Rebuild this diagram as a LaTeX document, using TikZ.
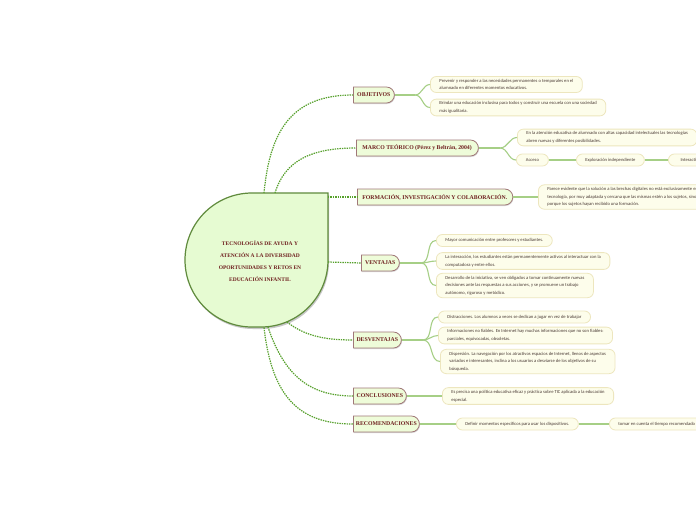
\documentclass[tikz,border=0pt]{standalone}
\usepackage{fontspec}
\setmainfont{Liberation Serif}
\newfontfamily\subfont{Carlito}
\usetikzlibrary{shapes.misc,shadows}
\definecolor{cfill}{HTML}{E6FBD2}
\definecolor{cborder}{HTML}{5F8A3C}
\definecolor{tfill}{HTML}{EEFCD9}
\definecolor{tborder}{HTML}{A07878}
\definecolor{ttext}{HTML}{6E1E1E}
\definecolor{subfill}{HTML}{FDFDEB}
\definecolor{subborder}{HTML}{EDE6BE}
\definecolor{subtext}{HTML}{4A3A34}
\definecolor{sublinec}{HTML}{A6CF86}
\definecolor{dotc}{HTML}{56A02B}
\tikzset{
  topic/.style={rounded rectangle, rounded rectangle left arc=none, draw=tborder, fill=tfill,
    line width=0.8pt, font=\bfseries\fontsize{5.8}{6}\selectfont, text=ttext,
    minimum height=16pt, inner xsep=5pt, anchor=west,
    drop shadow={shadow xshift=0.6pt, shadow yshift=-1pt, fill=black!30, opacity=0.5}},
  sub/.style={draw=subborder, fill=subfill, rounded corners=6pt, line width=0.8pt,
    font=\subfont\fontsize{4.6}{7.6}\selectfont, text=subtext, align=left,
    inner xsep=9pt, inner ysep=2.6pt, minimum height=12pt, anchor=west},
  subline/.style={draw=sublinec, line width=1.1pt},
  dotline/.style={draw=dotc, line width=1.2pt, dash pattern=on 1.4pt off 1pt},
}
\begin{document}
\begin{tikzpicture}[x=1pt,y=-1pt]
\useasboundingbox (0,0) rectangle (696,520);
\clip (0,0) rectangle (696,520);
\fill[white] (0,0) rectangle (696,520);

% central teardrop
\fill[black!22, shift={(1,2)}] (328,193) -- (328,260) arc[start angle=0,end angle=90,radius=67]
  -- (252,327) arc[start angle=90,end angle=180,radius=67]
  arc[start angle=180,end angle=270,radius=67] -- cycle;
\draw[cborder, line width=1.2pt, fill=cfill] (328,193) -- (328,260) arc[start angle=0,end angle=90,radius=67]
  -- (252,327) arc[start angle=90,end angle=180,radius=67]
  arc[start angle=180,end angle=270,radius=67] -- cycle;
\node[font=\bfseries\fontsize{5.5}{12}\selectfont, text=ttext, align=center] (central) at (260,261)
  {TECNOLOGÍAS DE AYUDA Y\\ATENCIÓN A LA DIVERSIDAD\\OPORTUNIDADES Y RETOS EN\\EDUCACIÓN INFANTIL};

% connection points on central node
\coordinate (c1) at (264,193);
\coordinate (c2) at (275,193);
\coordinate (c3) at (328,197);
\coordinate (c4) at (328,262);
\coordinate (c5) at (287,322);
\coordinate (c6) at (268,327);
\coordinate (c7) at (264,327.5);

% topics
\node[topic, minimum width=51pt] (obj) at (353,95) {OBJETIVOS};
\node[topic, minimum width=132pt] (mar) at (356,148) {MARCO TEÓRICO (Pérez y Beltrán, 2004)};
\node[topic, minimum width=155pt] (form) at (357,197) {FORMACIÓN, INVESTIGACIÓN Y COLABORACIÓN.};
\node[topic, minimum width=48pt] (ven) at (361,263) {VENTAJAS};
\node[topic, minimum width=58pt] (des) at (353,340) {DESVENTAJAS};
\node[topic, minimum width=63pt] (con) at (353,396) {CONCLUSIONES};
\node[topic, minimum width=76pt] (rec) at (353,424) {RECOMENDACIONES};

% dotted connectors
\draw[dotline] (c1) .. controls (270,130) and (292,95) .. (obj.west);
\draw[dotline] (c2) .. controls (285,160) and (312,148) .. (mar.west);
\draw[dotline] (c3) -- (form.west);
\draw[dotline] (c4) -- (ven.west);
\draw[dotline] (c5) .. controls (305,336) and (325,340) .. (des.west);
\draw[dotline] (c6) .. controls (285,378) and (312,396) .. (con.west);
\draw[dotline] (c7) .. controls (272,398) and (300,424) .. (rec.west);

% subtopics
\node[sub] (o1) at (430,84.5) {Prevenir y responder a las necesidades permanentes o temporales en el\\alumnado en diferentes momentos educativos.};
\node[sub] (o2) at (430,107.5) {Brindar una educación inclusiva para todos y construir una escuela con una sociedad\\más igualitaria.};
\node[sub] (m1) at (517,137.5) {En la atención educativa de alumnado con altas capacidad intelectuales las tecnologías\\abren nuevas y diferentes posibilidades.};
\node[sub, minimum width=32pt, align=center] (m2) at (516,160) {Acceso};
\node[sub, minimum width=65pt, align=center] (m3) at (576,160) {Exploración independiente};
\node[sub, minimum width=50pt] (m4) at (668,160) {Interactividad};
\node[sub] (f1) at (538,197) {Parece evidente que la solución a las brechas digitales no está exclusivamente en la\\tecnología, por muy adaptada y cercana que las mismas estén a los sujetos, sino\\porque los sujetos hayan recibido una formación.};
\node[sub] (v1) at (436,240.5) {Mayor comunicación entre profesores y estudiantes.};
\node[sub] (v2) at (436,261) {La interacción, los estudiantes están permanentemente activos al interactuar con la\\computadora y entre ellos.};
\node[sub] (v3) at (436,285.5) {Desarrollo de la iniciativa, se ven obligados a tomar continuamente nuevas\\decisiones ante las respuestas a sus acciones, y se promueve un trabajo\\autónomo, riguroso y metódico.};
\node[sub] (d1) at (438,317) {Distracciones. Los alumnos a veces se dedican a jugar en vez de trabajar};
\node[sub] (d2) at (438,335.5) {Informaciones no fiables. En Internet hay muchas informaciones que no son fiables:\\parciales, equivocadas, obsoletas.};
\node[sub] (d3) at (440,361.5) {Dispersión. La navegación por los atractivos espacios de Internet, llenos de aspectos\\variados e interesantes, inclina a los usuarios a desviarse de los objetivos de su\\búsqueda.};
\node[sub] (k1) at (442,396) {Es precisa una política educativa eficaz y práctica sobre TIC aplicada a la educación\\especial.};
\node[sub] (r1) at (456,424) {Definir momentos específicos para usar los dispositivos.};
\node[sub] (r2) at (609,424) {tomar en cuenta el tiempo recomendado frente a las pantallas};

% junctions
\coordinate (oj) at (415,95);
\coordinate (mj) at (500,148);
\coordinate (vj) at (421,263);
\coordinate (dj) at (423,340);

% topic to subtopic lines
\draw[subline] (obj.east) -- (oj);
\draw[subline] (oj) to[out=0,in=180] (o1.west);
\draw[subline] (oj) to[out=0,in=180] (o2.west);
\draw[subline] (mar.east) -- (mj);
\draw[subline] (mj) to[out=0,in=180] (m1.west);
\draw[subline] (mj) to[out=0,in=180] (m2.west);
\draw[subline] (m2.east) -- (m3.west);
\draw[subline] (m3.east) -- (m4.west);
\draw[subline] (form.east) -- (f1.west);
\draw[subline] (ven.east) -- (vj);
\draw[subline] (vj) to[out=0,in=180] (v1.west);
\draw[subline] (vj) to[out=0,in=180] (v2.west);
\draw[subline] (vj) to[out=0,in=180] (v3.west);
\draw[subline] (des.east) -- (dj);
\draw[subline] (dj) to[out=0,in=180] (d1.west);
\draw[subline] (dj) to[out=0,in=180] (d2.west);
\draw[subline] (dj) to[out=0,in=180] (d3.west);
\draw[subline] (con.east) -- (k1.west);
\draw[subline] (rec.east) -- (r1.west);
\draw[subline] (r1.east) -- (r2.west);
\end{tikzpicture}
\end{document}
